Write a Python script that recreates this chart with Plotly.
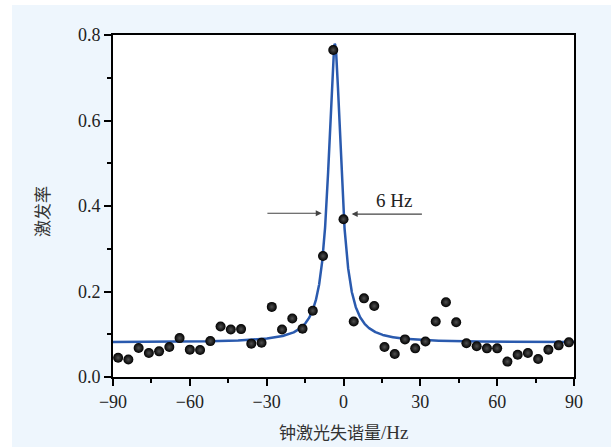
import numpy as np
import plotly.graph_objects as go

# measured points (clock-laser detuning in Hz, excitation rate)
detuning_hz = [-88, -84, -80, -76, -72, -68, -64, -60, -56, -52, -48, -44, -40, -36, -32,
               -28, -24, -20, -16, -12, -8, -4, 0, 4, 8, 12, 16, 20, 24, 28,
               32, 36, 40, 44, 48, 52, 56, 60, 64, 68, 72, 76, 80, 84, 88]
excitation = [0.045, 0.041, 0.068, 0.056, 0.060, 0.070, 0.091, 0.064, 0.063, 0.084, 0.118, 0.111, 0.112, 0.078, 0.080,
              0.164, 0.111, 0.137, 0.113, 0.155, 0.283, 0.765, 0.369, 0.130, 0.184, 0.166, 0.070, 0.054, 0.088, 0.067,
              0.083, 0.130, 0.175, 0.128, 0.079, 0.072, 0.067, 0.067, 0.036, 0.052, 0.056, 0.042, 0.064, 0.074, 0.081]

# Lorentzian fit parameters
fit_center = -3.4
fit_hwhm = 3.0
fit_amp = 0.698
fit_base = 0.081

x_ticks = [-90, -60, -30, 0, 30, 60, 90]
y_ticks = [0.0, 0.2, 0.4, 0.6, 0.8]

xf = np.linspace(-90, 90, 3601)
yf = fit_base + fit_amp / (1 + ((xf - fit_center) / fit_hwhm) ** 2)

fig = go.Figure()
fig.add_trace(go.Scatter(x=xf, y=yf, mode="lines",
                         line=dict(color="#2a5aae", width=2.5), hoverinfo="skip"))
fig.add_trace(go.Scatter(x=detuning_hz, y=excitation, mode="markers",
                         marker=dict(size=10, color="#000000",
                                     gradient=dict(type="radial", color="#505050"),
                                     line=dict(width=0))))

serif = "Liberation Serif"
cjk = "Noto Sans CJK SC"

axis_common = dict(showline=True, mirror=True, linecolor="black", linewidth=2,
                   ticks="outside", ticklen=7, tickwidth=1.5, tickcolor="black",
                   showgrid=False, zeroline=False,
                   tickfont=dict(family=serif, size=18, color="#222"))

fig.update_xaxes(range=[-90, 90], tickvals=x_ticks,
                 minor=dict(dtick=15, tick0=-90, ticks="outside", ticklen=4, tickwidth=1.5, tickcolor="black"),
                 **axis_common)
fig.update_yaxes(range=[0, 0.8], tickvals=y_ticks, tickformat=".1f",
                 minor=dict(dtick=0.1, tick0=0, ticks="outside", ticklen=4, tickwidth=1.5, tickcolor="black"),
                 **axis_common)

fig.update_layout(
    width=611, height=447,
    margin=dict(l=113, r=37, t=35, b=70),
    paper_bgcolor="#eef6fd", plot_bgcolor="white",
    showlegend=False,
    shapes=[
        dict(type="rect", xref="paper", yref="paper", x0=-0.3, x1=-0.2191, y0=-0.3, y1=1.2,
             fillcolor="white", line=dict(width=0), layer="below"),
        dict(type="rect", xref="paper", yref="paper", x0=-0.3, x1=1.2, y0=1.0875, y1=1.2,
             fillcolor="white", line=dict(width=0), layer="below"),
    ],
    annotations=[
        dict(x=-8.5, y=0.383, ax=-30.3, ay=0.383, xref="x", yref="y", axref="x", ayref="y",
             text="", showarrow=True, arrowhead=2, arrowsize=1, arrowwidth=1.2, arrowcolor="#444"),
        dict(x=3.2, y=0.381, ax=31.2, ay=0.381, xref="x", yref="y", axref="x", ayref="y",
             text="", showarrow=True, arrowhead=2, arrowsize=1, arrowwidth=1.2, arrowcolor="#444"),
        dict(x=19.7, y=0.414, xref="x", yref="y", text="6 Hz", showarrow=False,
             font=dict(family=serif, size=19, color="#222")),
        dict(x=0.499, y=-0.159, xref="paper", yref="paper",
             text="钟激光失谐量<span style='font-family:Liberation Serif;font-size:19px'>/Hz</span>",
             showarrow=False,
             font=dict(family=cjk, size=17, color="#333"), xanchor="center", yanchor="middle"),
        dict(x=-0.154, y=0.4825, xref="paper", yref="paper", text="激发率", showarrow=False,
             textangle=-90, font=dict(family=cjk, size=17, color="#333"), xanchor="center", yanchor="middle"),
    ],
)

fig.write_html("out.html")
